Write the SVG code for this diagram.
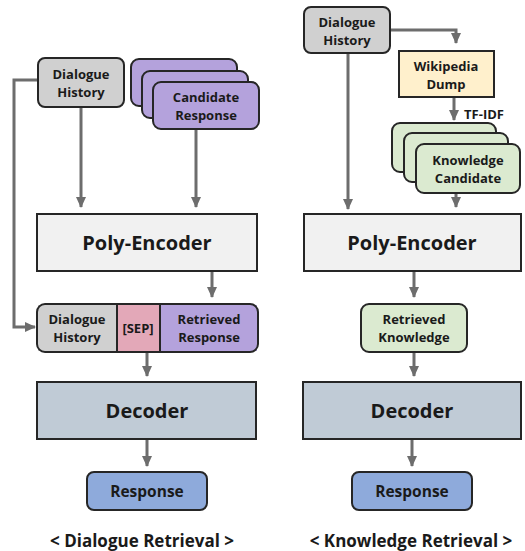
<svg xmlns="http://www.w3.org/2000/svg" width="525" height="551" viewBox="0 0 525 551">
<style>
text{font-family:"Open Sans","Noto Sans","Liberation Sans",sans-serif;font-weight:bold;fill:#1a1a1a;text-anchor:middle;}
.sm{font-size:13px;}
.rs{font-size:15.5px;}
.big{font-size:20px;}
.cap{font-size:17px;}
.box{stroke:#262626;stroke-width:2;}
.gray{fill:#d0d0d0;}
.purple{fill:#b4a2dc;}
.pink{fill:#e3a8b8;}
.green{fill:#dbead0;}
.yellow{fill:#fff0cc;}
.enc{fill:#f1f1f1;}
.dec{fill:#c0cbd6;}
.resp{fill:#8eaadb;}
.con{stroke:#6d6d6d;stroke-width:3;fill:none;}
</style>
<defs>
<marker id="ah" markerUnits="userSpaceOnUse" markerWidth="12" markerHeight="10" refX="10" refY="5" orient="auto">
<path d="M0,0 L11,5 L0,10 z" fill="#6d6d6d"/>
</marker>
</defs>
<rect width="525" height="551" fill="#ffffff"/>

<g id="connectors">
<path class="con" d="M38,80 H14 V327 H35" marker-end="url(#ah)"/>
<path class="con" d="M81,107 V207" marker-end="url(#ah)"/>
<path class="con" d="M196,129 V207" marker-end="url(#ah)"/>
<path class="con" d="M212,271 V297" marker-end="url(#ah)"/>
<path class="con" d="M147,352 V376" marker-end="url(#ah)"/>
<path class="con" d="M147,439 V466" marker-end="url(#ah)"/>
<path class="con" d="M390,30 H456 V43" marker-end="url(#ah)"/>
<path class="con" d="M454,97 V120" marker-end="url(#ah)"/>
<path class="con" d="M456,193 V207" marker-end="url(#ah)"/>
<path class="con" d="M348,53 V209" marker-end="url(#ah)"/>
<path class="con" d="M414,271 V297" marker-end="url(#ah)"/>
<path class="con" d="M414,352 V376" marker-end="url(#ah)"/>
<path class="con" d="M412,439 V466" marker-end="url(#ah)"/>
<text class="sm" x="484" y="119">TF-IDF</text>
</g>

<g id="dh-left">
<rect class="box gray" x="38" y="58" width="86" height="49" rx="7"/>
<text class="sm" x="81" y="79">Dialogue</text>
<text class="sm" x="81" y="97">History</text>
</g>

<g id="candidate-response">
<rect class="box purple" x="131" y="59" width="106" height="47" rx="8"/>
<rect class="box purple" x="142" y="71" width="106" height="47" rx="8"/>
<rect class="box purple" x="153" y="82" width="106" height="47" rx="8"/>
<text class="sm" x="206" y="102">Candidate</text>
<text class="sm" x="206" y="120">Response</text>
</g>

<g id="poly-left">
<rect class="box enc" x="37" y="214" width="220" height="57"/>
<text class="big" x="147" y="250">Poly-Encoder</text>
</g>

<g id="combined">
<rect class="gray" x="38" y="305" width="79" height="46"/>
<rect class="pink" x="117" y="305" width="43" height="46"/>
<rect class="purple" x="160" y="305" width="97" height="46"/>
<rect x="37" y="304" width="221" height="48" rx="8" fill="none" stroke="#262626" stroke-width="2"/>
<line x1="117" y1="304" x2="117" y2="352" stroke="#262626" stroke-width="2"/>
<line x1="160" y1="304" x2="160" y2="352" stroke="#262626" stroke-width="2"/>
<text class="sm" x="77" y="324">Dialogue</text>
<text class="sm" x="77" y="342">History</text>
<text class="sm" x="138" y="333">[SEP]</text>
<text class="sm" x="209" y="324">Retrieved</text>
<text class="sm" x="209" y="342">Response</text>
</g>

<g id="decoder-left">
<rect class="box dec" x="37" y="382" width="219" height="57"/>
<text class="big" x="147" y="418">Decoder</text>
</g>

<g id="response-left">
<rect class="box resp" x="87" y="472" width="120" height="38" rx="7"/>
<text class="rs" x="147" y="497">Response</text>
</g>

<text class="cap" x="142" y="547">&lt; Dialogue Retrieval &gt;</text>

<g id="dh-right">
<rect class="box gray" x="304" y="7" width="86" height="46" rx="7"/>
<text class="sm" x="347" y="27">Dialogue</text>
<text class="sm" x="347" y="45">History</text>
</g>

<g id="wikipedia">
<rect class="box yellow" x="399" y="51" width="95" height="46"/>
<text class="sm" x="446" y="71">Wikipedia</text>
<text class="sm" x="446" y="89">Dump</text>
</g>

<g id="knowledge-candidate">
<rect class="box green" x="392" y="123" width="104" height="49" rx="8"/>
<rect class="box green" x="404" y="133" width="104" height="49" rx="8"/>
<rect class="box green" x="416" y="144" width="104" height="49" rx="8"/>
<text class="sm" x="468" y="165">Knowledge</text>
<text class="sm" x="468" y="183">Candidate</text>
</g>

<g id="poly-right">
<rect class="box enc" x="304" y="214" width="217" height="57"/>
<text class="big" x="412" y="250">Poly-Encoder</text>
</g>

<g id="retrieved-knowledge">
<rect class="box green" x="361" y="304" width="106" height="48" rx="8"/>
<text class="sm" x="414" y="324">Retrieved</text>
<text class="sm" x="414" y="342">Knowledge</text>
</g>

<g id="decoder-right">
<rect class="box dec" x="303" y="382" width="218" height="57"/>
<text class="big" x="412" y="418">Decoder</text>
</g>

<g id="response-right">
<rect class="box resp" x="352" y="472" width="120" height="38" rx="7"/>
<text class="rs" x="412" y="497">Response</text>
</g>

<text class="cap" x="411" y="547">&lt; Knowledge Retrieval &gt;</text>
</svg>
